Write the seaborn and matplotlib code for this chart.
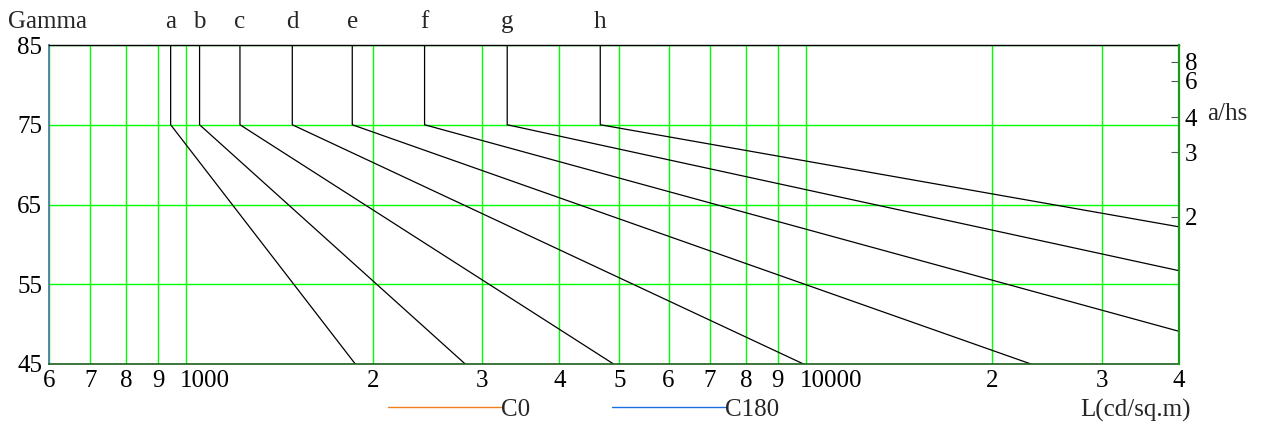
import numpy as np
import pandas as pd
import matplotlib
matplotlib.use("Agg")
import matplotlib.pyplot as plt
import seaborn as sns
from matplotlib.ticker import NullLocator
from matplotlib.transforms import ScaledTranslation

# ---- data ----
curve_labels = ["a", "b", "c", "d", "e", "f", "g", "h"]
start_L = [943, 1050, 1220, 1482, 1852, 2423, 3294, 4655]       # vertical segment luminance
end_L = [1873, 2818, 4891, 9907, 23070, 40000, 40000, 40000]    # end of sloped segment
end_gamma = [45, 45, 45, 45, 45, 49.1, 56.7, 62.2]
top_gamma = 85
knee_gamma = 75

x_tick_values = [600, 700, 800, 900, 1000, 2000, 3000, 4000, 5000, 6000,
                 7000, 8000, 9000, 10000, 20000, 30000, 40000]
x_tick_labels = ["6", "7", "8", "9", "1000", "2", "3", "4", "5", "6",
                 "7", "8", "9", "10000", "2", "3", "4"]
y_tick_values = [45, 55, 65, 75, 85]
a_hs_values = [2, 3, 4, 6, 8]
legend_labels = ["C0", "C180"]
legend_colors = ["#f07e1c", "#1c6fe0"]

# ---- style ----
sns.set_theme(style="white")
plt.rcParams["font.family"] = ["Liberation Serif", "DejaVu Serif"]
FS = 18
FPX = FS * 100 / 72
W, H = 1271, 432

fig = plt.figure(figsize=(W / 100, H / 100), dpi=100)
ax = fig.add_axes([49 / W, 1 - 364 / H, (1179 - 49) / W, (364 - 45) / H])

rows = []
for lab, ls, le, ge in zip(curve_labels, start_L, end_L, end_gamma):
    rows += [(lab, ls, top_gamma), (lab, ls, knee_gamma), (lab, le, ge)]
df = pd.DataFrame(rows, columns=["curve", "L", "gamma"])

sns.lineplot(data=df, x="L", y="gamma", units="curve", estimator=None,
             sort=False, color="black", lw=0.9, ax=ax, legend=False)

ax.set_xscale("log")
ax.set_xlim(600, 40000)
ax.set_ylim(45, 85)
ax.set_xticks(x_tick_values, x_tick_labels)
ax.xaxis.set_minor_locator(NullLocator())
ax.set_yticks(y_tick_values, [str(v) for v in y_tick_values])
ax.set_xlabel("")
ax.set_ylabel("")
ax.set_axisbelow(True)
ax.grid(True, which="major", color="#00ff00", lw=1.0)
ax.tick_params(axis="x", length=0, pad=4, labelsize=FS, labelcolor="black")
ax.tick_params(axis="y", length=0, pad=5, labelsize=FS, labelcolor="black")

for side, col, lw in [("left", "#4a7f9f", 1.3), ("top", "black", 1.0),
                      ("bottom", "#1f5f1f", 1.2)]:
    ax.spines[side].set_color(col)
    ax.spines[side].set_linewidth(lw)
    ax.spines[side].set_zorder(3)
ax.spines["right"].set_visible(False)

# curve letters above vertical segments
for lab, ls in zip(curve_labels, start_L):
    ax.annotate(lab, xy=(ls, top_gamma), xytext=(0, 12), textcoords="offset points",
                ha="center", va="baseline", fontsize=FS, annotation_clip=False)

# right axis a/hs (tan gamma)
ax2 = ax.twinx()
ax2.set_ylim(45, 85)
ax2.set_yticks(np.degrees(np.arctan(a_hs_values)), [str(v) for v in a_hs_values])
ax2.tick_params(axis="y", direction="in", length=5.5, width=0.8, color="#555555",
                pad=4.3, labelsize=FS, labelcolor="black")
ax2.grid(False)
for side in ["left", "top", "bottom"]:
    ax2.spines[side].set_visible(False)
ax2.spines["right"].set_color("#1a9a1a")
ax2.spines["right"].set_linewidth(1.6)

# legend (series C0 / C180)
handles = [ax.plot([], [], color=c, lw=1.0, label=l)[0]
           for l, c in zip(legend_labels, legend_colors)]
ax.legend(handles=handles, loc="center left",
          bbox_to_anchor=(387.7 / W, 1 - 409.5 / H), bbox_transform=fig.transFigure,
          ncol=2, frameon=False, handlelength=113 / FPX, handletextpad=0,
          columnspacing=3.3, borderpad=0, borderaxespad=0, fontsize=FS)

# texts
fig.text(8 / W, 1 - 28.3 / H, "Gamma", ha="left", va="baseline", fontsize=FS)
fig.text(1207 / W, 1 - 120 / H, "a/hs", ha="left", va="baseline", fontsize=FS)
fig.text(1135 / W, 1 - 410 / H, "L(cd/sq.m)", ha="center", va="center", fontsize=FS)

# x tick labels start half a digit left of their tick
off = ScaledTranslation(-(FPX * 0.25) / 100, 0, fig.dpi_scale_trans)
for lbl in ax.get_xticklabels():
    lbl.set_horizontalalignment("left")
    lbl.set_transform(lbl.get_transform() + off)

fig.savefig("out.png", dpi=100)
